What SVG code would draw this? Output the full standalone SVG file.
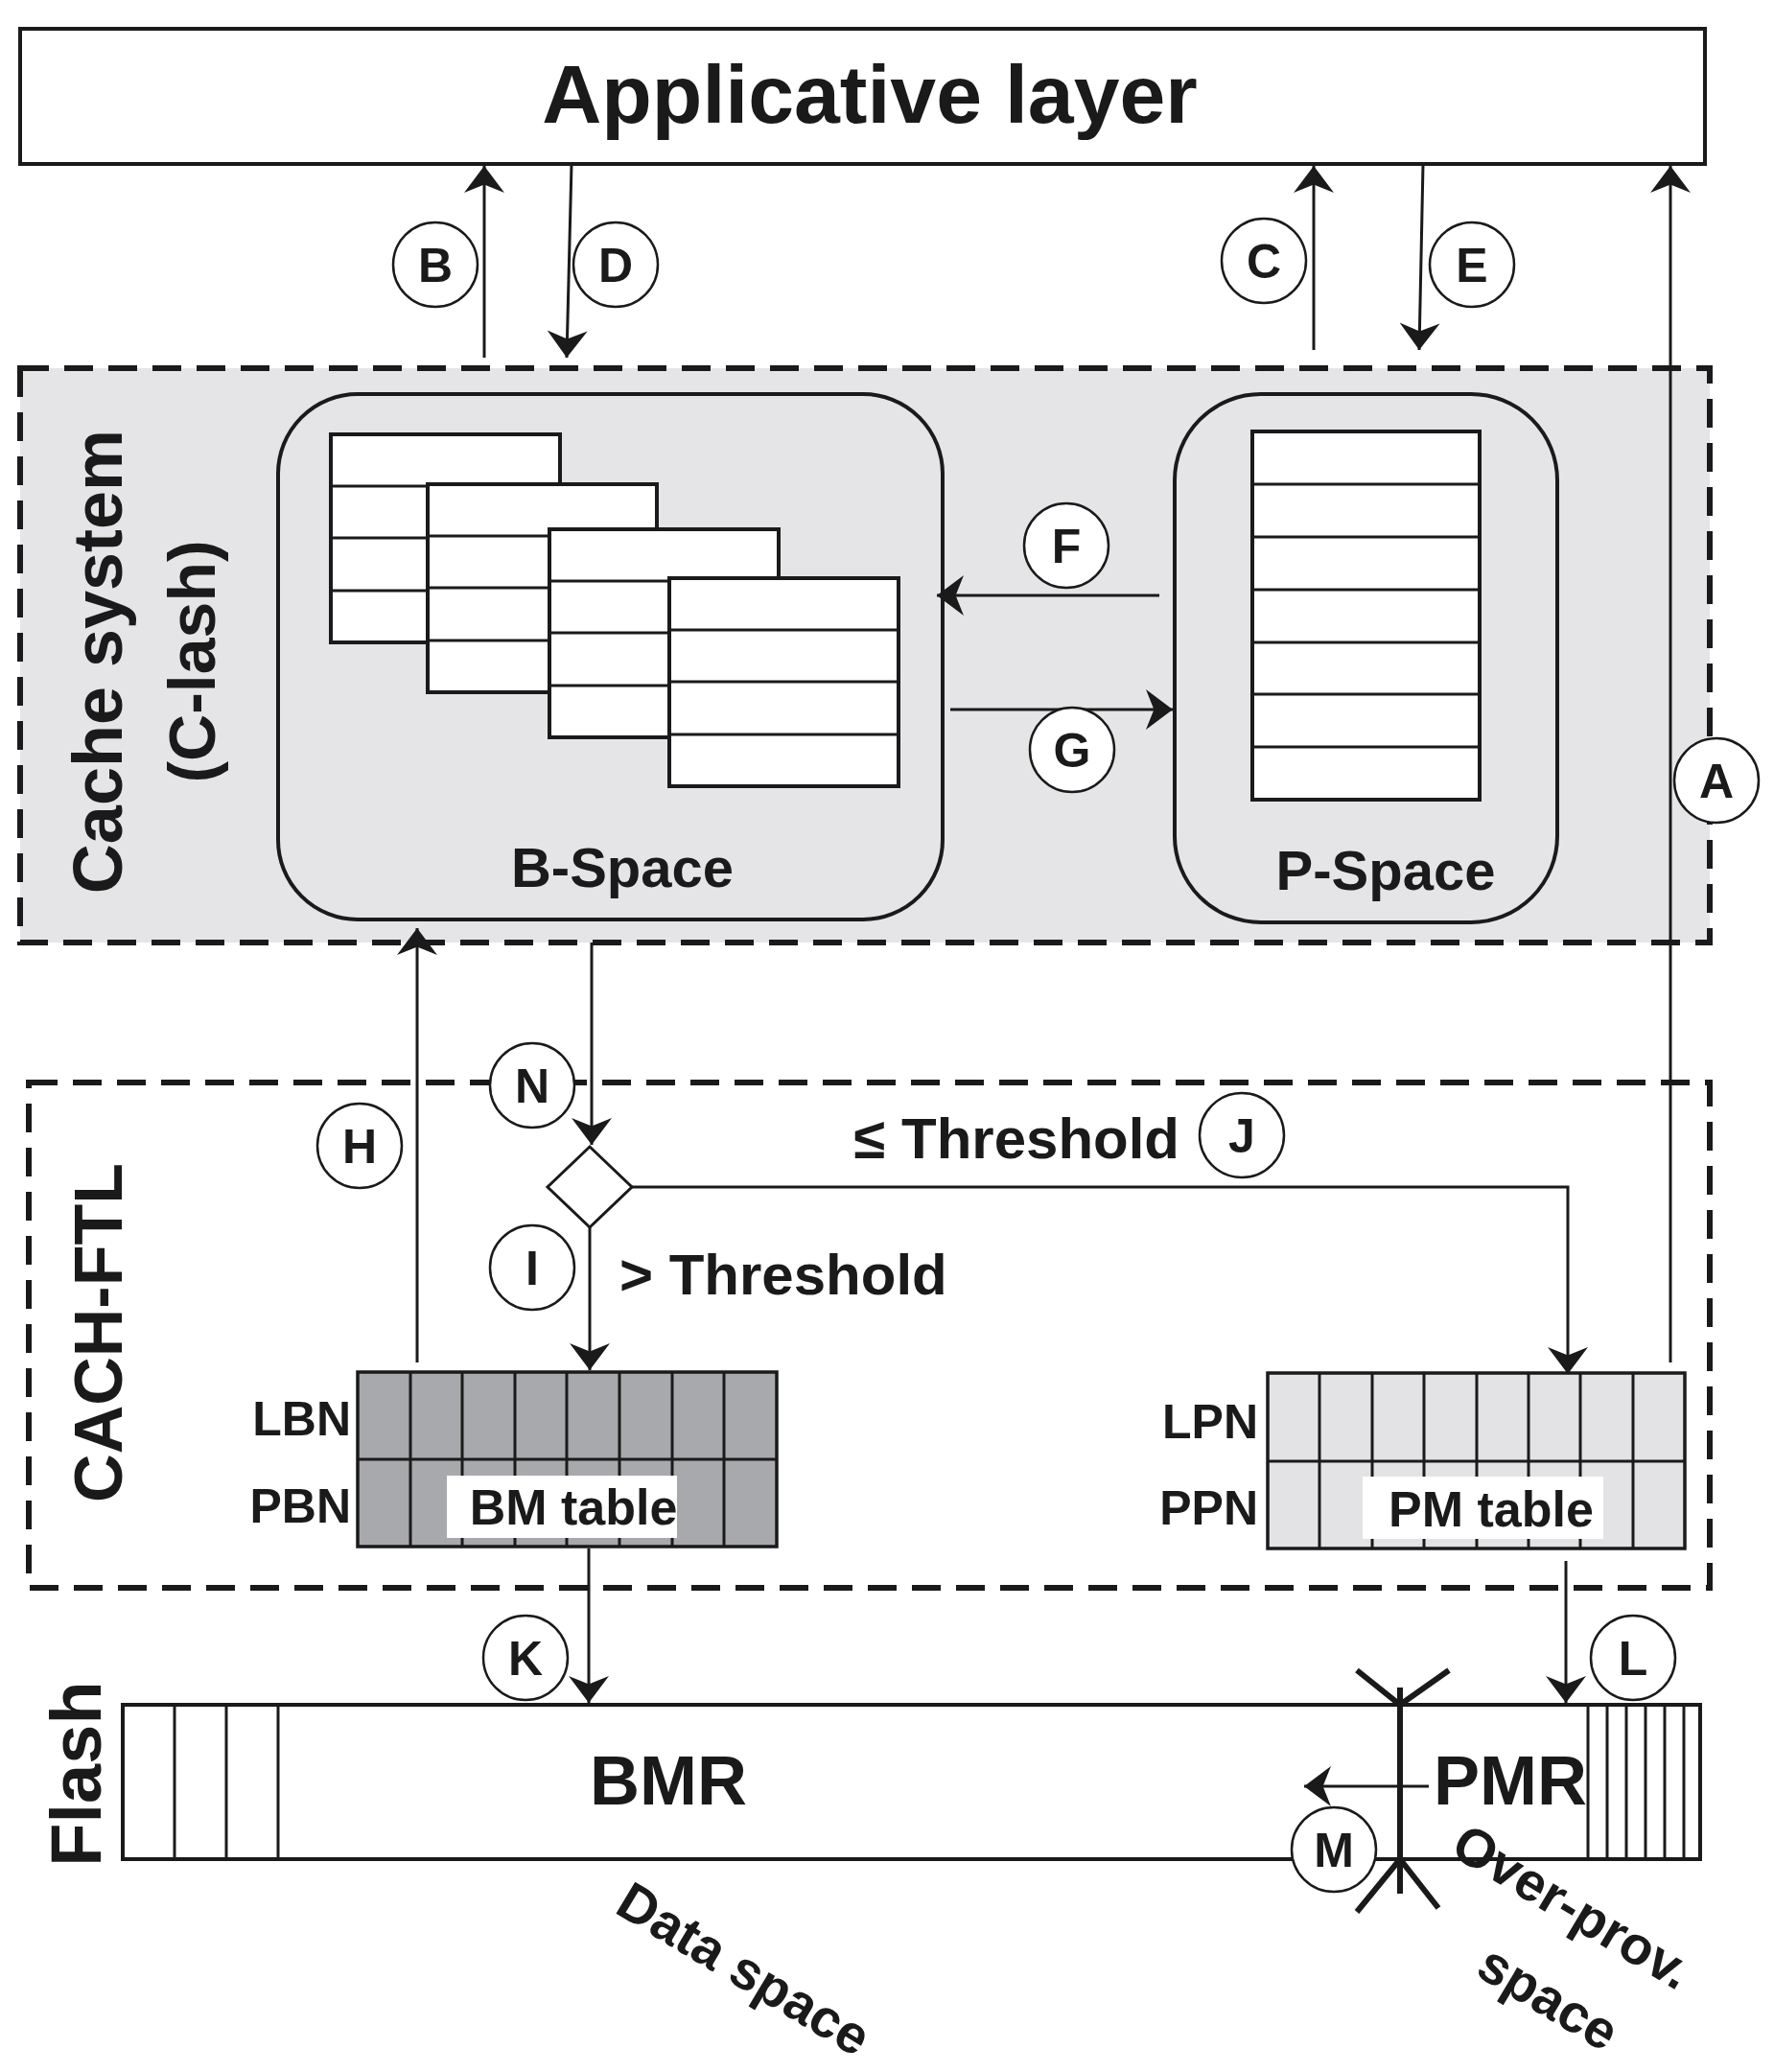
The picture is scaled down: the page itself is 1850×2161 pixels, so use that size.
<svg xmlns="http://www.w3.org/2000/svg" width="1850" height="2161" viewBox="0 0 1850 2161">
<style>
text{font-family:"Liberation Sans",Arial,sans-serif;font-weight:bold;fill:#1a1a1a}
.ln{stroke:#1a1a1a;stroke-width:3;fill:none}
.bx{stroke:#1a1a1a;stroke-width:4;fill:#fff}
.dash{stroke:#1a1a1a;stroke-width:6;stroke-dasharray:30,16;}
.c circle{fill:#fff;stroke:#1a1a1a;stroke-width:2.5}
.c text{font-size:50px;text-anchor:middle}
.lbl{font-size:58px}
.arr{stroke:#1a1a1a;stroke-width:3;fill:none;marker-end:url(#ah)}
</style>
<defs>
<marker id="ah" viewBox="0 0 20 30" refX="20" refY="15" markerWidth="10" markerHeight="14" markerUnits="strokeWidth" orient="auto"><path d="M0,0 L20,15 L0,30 L6,15 Z" fill="#1a1a1a"/></marker>
<g id="tbl"><rect width="239" height="217" class="bx" stroke-width="3.5"/><path d="M0,54H239M0,108H239M0,163H239" class="ln" stroke-width="3.5"/></g>
</defs>
<rect width="1850" height="2161" fill="#fff"/>
<g id="app"><rect x="21" y="30" width="1757" height="141" class="bx"/><text x="907" y="128" font-size="86" text-anchor="middle">Applicative layer</text></g>
<g id="cache"><rect x="21" y="384" width="1762" height="599" fill="#e5e5e8" class="dash"/>
<text transform="translate(127,690) rotate(-90)" font-size="72" text-anchor="middle">Cache system</text>
<text transform="translate(224,690) rotate(-90)" font-size="68" text-anchor="middle">(C-lash)</text></g>
<g id="bspace"><rect x="290" y="411" width="693" height="548" rx="83" fill="#e5e5e8" stroke="#1a1a1a" stroke-width="4"/>
<use href="#tbl" x="345" y="453"/><use href="#tbl" x="446" y="505"/><use href="#tbl" x="573" y="552"/><use href="#tbl" x="698" y="603"/>
<text x="649" y="925" class="lbl" text-anchor="middle">B-Space</text></g>
<g id="pspace"><rect x="1225" y="411" width="399" height="551" rx="90" fill="#e5e5e8" stroke="#1a1a1a" stroke-width="4"/>
<rect x="1306" y="450" width="237" height="384" class="bx"/><path d="M1306,505H1543M1306,560H1543M1306,615H1543M1306,670H1543M1306,724H1543M1306,779H1543" class="ln" stroke-width="3.5"/>
<text x="1445" y="928" class="lbl" text-anchor="middle">P-Space</text></g>
<g id="ftl"><rect x="30" y="1129" width="1753" height="527" fill="none" class="dash"/>
<text transform="translate(127,1390) rotate(-90)" font-size="70" text-anchor="middle">CACH-FTL</text></g>
<g id="bm"><rect x="373" y="1431" width="437" height="182" fill="#a8a9ad" stroke="#1a1a1a" stroke-width="3.5"/>
<path d="M373,1522H810M428,1431V1613M482,1431V1613M537,1431V1613M591,1431V1613M646,1431V1613M701,1431V1613M755,1431V1613" class="ln"/>
<rect x="466" y="1539" width="240" height="65" fill="#fff"/><text x="598" y="1590" font-size="52" text-anchor="middle">BM table</text>
<text x="366" y="1497" font-size="50" text-anchor="end">LBN</text><text x="366" y="1588" font-size="50" text-anchor="end">PBN</text></g>
<g id="pm"><rect x="1322" y="1432" width="435" height="183" fill="#e3e3e5" stroke="#1a1a1a" stroke-width="3.5"/>
<path d="M1322,1524H1757M1376,1432V1615M1431,1432V1615M1485,1432V1615M1540,1432V1615M1594,1432V1615M1648,1432V1615M1703,1432V1615" class="ln"/>
<rect x="1421" y="1540" width="251" height="65" fill="#fff"/><text x="1555" y="1592" font-size="52" text-anchor="middle">PM table</text>
<text x="1312" y="1500" font-size="50" text-anchor="end">LPN</text><text x="1312" y="1590" font-size="50" text-anchor="end">PPN</text></g>
<g id="decision"><path d="M615,1196 L659,1238 L615,1280 L571,1238 Z" fill="#fff" stroke="#1a1a1a" stroke-width="3"/></g>
<g id="flash"><rect x="128" y="1778" width="1645" height="161" class="bx"/>
<path d="M182,1778V1939M236,1778V1939M290,1778V1939" class="ln"/>
<path d="M1656,1778V1939M1676,1778V1939M1696,1778V1939M1716,1778V1939M1736,1778V1939M1756,1778V1939" class="ln" stroke-width="2"/>
<text x="697" y="1882" font-size="72" text-anchor="middle">BMR</text><text x="1575" y="1882" font-size="72" text-anchor="middle">PMR</text>
<path d="M1460,1760V1975M1415,1742L1460,1778L1511,1742M1415,1994L1460,1939L1500,1990" stroke="#1a1a1a" stroke-width="6" fill="none"/>
<text transform="translate(105,1850) rotate(-90)" font-size="74" text-anchor="middle">Flash</text>
<text transform="translate(766,2070) rotate(31)" font-size="56" text-anchor="middle">Data space</text>
<text transform="translate(1630,2005) rotate(31)" font-size="56" text-anchor="middle">Over-prov.</text>
<text transform="translate(1605,2100) rotate(31)" font-size="56" text-anchor="middle">space</text></g>
<g id="connectors">
<path d="M505,373V173" class="arr"/><path d="M596,171L591,373" class="arr"/>
<path d="M1370,365V173" class="arr"/><path d="M1484,171L1480,365" class="arr"/>
<path d="M1742,1421V173" class="arr"/>
<path d="M1209,621H977" class="arr"/><path d="M991,740H1223" class="arr"/>
<path d="M435,1421V968" class="arr"/>
<path d="M617,983V1194" class="arr"/>
<path d="M615,1280V1429" class="arr"/>
<path d="M659,1238H1635V1433" class="arr"/>
<path d="M614,1615V1776" class="arr"/><path d="M1633,1628V1776" class="arr"/>
<path d="M1490,1863H1360" class="arr"/>
</g>
<g id="labels" class="c">
<circle cx="454" cy="276" r="44"/><text x="454" y="294">B</text>
<circle cx="642" cy="276" r="44"/><text x="642" y="294">D</text>
<circle cx="1318" cy="272" r="44"/><text x="1318" y="290">C</text>
<circle cx="1535" cy="276" r="44"/><text x="1535" y="294">E</text>
<circle cx="1790" cy="814" r="44"/><text x="1790" y="832">A</text>
<circle cx="1112" cy="569" r="44"/><text x="1112" y="587">F</text>
<circle cx="1118" cy="782" r="44"/><text x="1118" y="800">G</text>
<circle cx="375" cy="1195" r="44"/><text x="375" y="1213">H</text>
<circle cx="555" cy="1132" r="44"/><text x="555" y="1150">N</text>
<circle cx="555" cy="1322" r="44"/><text x="555" y="1340">I</text>
<circle cx="1295" cy="1184" r="44"/><text x="1295" y="1202">J</text>
<circle cx="548" cy="1729" r="44"/><text x="548" y="1747">K</text>
<circle cx="1703" cy="1729" r="44"/><text x="1703" y="1747">L</text>
<circle cx="1391" cy="1929" r="44"/><text x="1391" y="1947">M</text>
</g>
<g id="thresholds"><text x="1230" y="1208" font-size="60" text-anchor="end">≤ Threshold</text>
<text x="646" y="1350" font-size="60">&gt; Threshold</text></g>
</svg>
